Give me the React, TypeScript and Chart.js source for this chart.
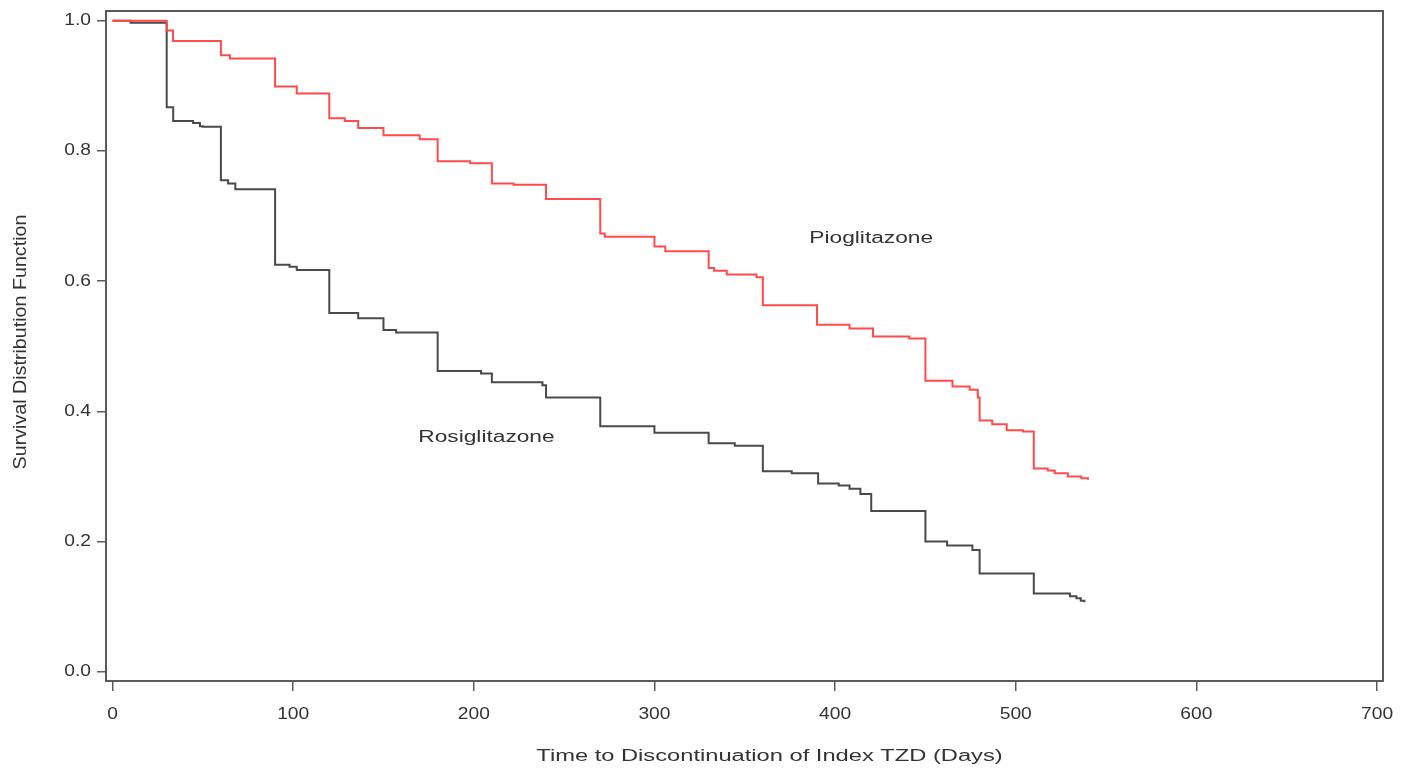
import React, { useEffect, useRef } from "react";
import { Chart, registerables } from "chart.js";

Chart.register(...registerables);

// ---- Data ----
const pioTimes = [0, 30, 33.5, 60, 65, 90, 102, 120, 128.6, 136, 150, 170, 180, 198, 210, 222, 240, 270, 272.5, 300, 306, 330, 333, 340, 356.5, 360, 390, 408, 421, 441, 450, 465, 474.5, 479, 480, 487, 495, 504, 510, 517.7, 521.6, 528.8, 536.3, 540];
const pioSurv = [1.0, 0.985, 0.969, 0.947, 0.942, 0.899, 0.888, 0.85, 0.846, 0.835, 0.824, 0.818, 0.784, 0.781, 0.75, 0.748, 0.726, 0.673, 0.668, 0.653, 0.646, 0.62, 0.616, 0.61, 0.606, 0.563, 0.533, 0.527, 0.515, 0.512, 0.447, 0.438, 0.433, 0.421, 0.386, 0.38, 0.371, 0.369, 0.312, 0.309, 0.305, 0.3, 0.297, 0.295];

const rosiTimes = [0, 10, 30, 33.6, 44.6, 48.4, 50, 60, 64, 68, 90, 98, 102, 120, 136, 150, 157, 180, 204, 210, 238, 240, 270, 300, 330, 344.5, 360, 376, 390.6, 402, 408, 414, 420, 450, 462, 476, 480, 510, 530, 533.6, 536, 538];
const rosiSurv = [1.0, 0.997, 0.867, 0.846, 0.843, 0.838, 0.837, 0.755, 0.75, 0.741, 0.625, 0.622, 0.617, 0.551, 0.543, 0.525, 0.521, 0.462, 0.458, 0.4445, 0.44, 0.421, 0.377, 0.367, 0.351, 0.347, 0.308, 0.305, 0.289, 0.286, 0.281, 0.273, 0.247, 0.2, 0.194, 0.187, 0.151, 0.12, 0.116, 0.113, 0.109, 0.1065];

const xTicks = [0, 100, 200, 300, 400, 500, 600, 700];
const yTicks = [0.0, 0.2, 0.4, 0.6, 0.8, 1.0];

const curveLabels = ["Pioglitazone", "Rosiglitazone"];
const labelTimes = [420, 207];
const labelSurv = [0.666, 0.359];

const xTitle = "Time to Discontinuation of Index TZD (Days)";
const yTitle = "Survival Distribution Function";

// ---- Styles ----
const RED = "#ff4b4b";
const DARK = "#4a4a4a";
const FRAME = "#5a5a5a";
const TEXT = "#333333";
const FONT = '16px "Liberation Sans", Arial, Helvetica, sans-serif';

const toPoints = (xs: number[], ys: number[]) => xs.map((x, i) => ({ x, y: ys[i] }));

const sasTextPlugin = {
  id: "sasText",
  afterDraw(chart: any) {
    const ctx = chart.ctx as CanvasRenderingContext2D;
    const ca = chart.chartArea;
    const xs = chart.scales.x;
    const ys = chart.scales.y;
    ctx.save();
    ctx.strokeStyle = FRAME;
    ctx.lineWidth = 2;
    ctx.strokeRect(ca.left, ca.top, ca.right - ca.left, ca.bottom - ca.top);

    ctx.fillStyle = TEXT;
    ctx.font = FONT;
    const draw = (txt: string, x: number, y: number, align: CanvasTextAlign, sx: number, sy = 1, rot = 0) => {
      ctx.save();
      ctx.translate(x, y);
      if (rot) ctx.rotate(rot);
      ctx.scale(sx, sy);
      ctx.textAlign = align;
      ctx.textBaseline = "middle";
      ctx.fillText(txt, 0, 0);
      ctx.restore();
    };
    yTicks.forEach((v) => draw(v.toFixed(1), ca.left - 15, ys.getPixelForValue(v), "right", 1.2));
    xTicks.forEach((v) => draw(String(v), xs.getPixelForValue(v), ca.bottom + 34, "center", 1.2));
    curveLabels.forEach((t, i) =>
      draw(t, xs.getPixelForValue(labelTimes[i]), ys.getPixelForValue(labelSurv[i]), "center", 1.42)
    );
    draw(xTitle, (ca.left + ca.right) / 2 + 25, ca.bottom + 76, "center", 1.48);
    draw(yTitle, 21, 342, "center", 1.23, 1.1, -Math.PI / 2);
    ctx.restore();
  },
};

export default function App() {
  const ref = useRef<HTMLCanvasElement | null>(null);

  useEffect(() => {
    if (!ref.current) return;
    const chart = new Chart(ref.current, {
      type: "line",
      data: {
        datasets: [
          {
            label: curveLabels[0],
            data: toPoints(pioTimes, pioSurv),
            borderColor: RED,
            borderWidth: 2,
            pointRadius: 0,
            stepped: "before",
            fill: false,
          },
          {
            label: curveLabels[1],
            data: toPoints(rosiTimes, rosiSurv),
            borderColor: DARK,
            borderWidth: 2,
            pointRadius: 0,
            stepped: "before",
            fill: false,
          },
        ],
      },
      options: {
        animation: false,
        responsive: false,
        devicePixelRatio: 1,
        parsing: false,
        layout: { padding: { left: 0, top: 11, right: 18, bottom: 0 } },
        plugins: { legend: { display: false }, tooltip: { enabled: false }, title: { display: false } },
        scales: {
          x: {
            type: "linear",
            min: -3.6,
            max: 703.3,
            border: { display: false },
            grid: { drawOnChartArea: false, drawTicks: true, tickLength: 10, tickColor: FRAME, lineWidth: 1.5 },
            ticks: { display: false },
            afterBuildTicks: (s: any) => {
              s.ticks = xTicks.map((v) => ({ value: v }));
            },
            afterFit: (s: any) => {
              s.height = 92;
            },
          },
          y: {
            type: "linear",
            min: -0.0143,
            max: 1.0149,
            border: { display: false },
            grid: { drawOnChartArea: false, drawTicks: true, tickLength: 9, tickColor: FRAME, lineWidth: 1.5 },
            ticks: { display: false },
            afterBuildTicks: (s: any) => {
              s.ticks = yTicks.map((v) => ({ value: v }));
            },
            afterFit: (s: any) => {
              s.width = 106;
            },
          },
        },
      },
      plugins: [sasTextPlugin],
    } as any);
    return () => chart.destroy();
  }, []);

  return (
    <div style={{ position: "fixed", left: 0, top: 0, width: 1401, height: 773, background: "#fff" }}>
      <canvas ref={ref} width={1401} height={773} style={{ display: "block" }} />
    </div>
  );
}
